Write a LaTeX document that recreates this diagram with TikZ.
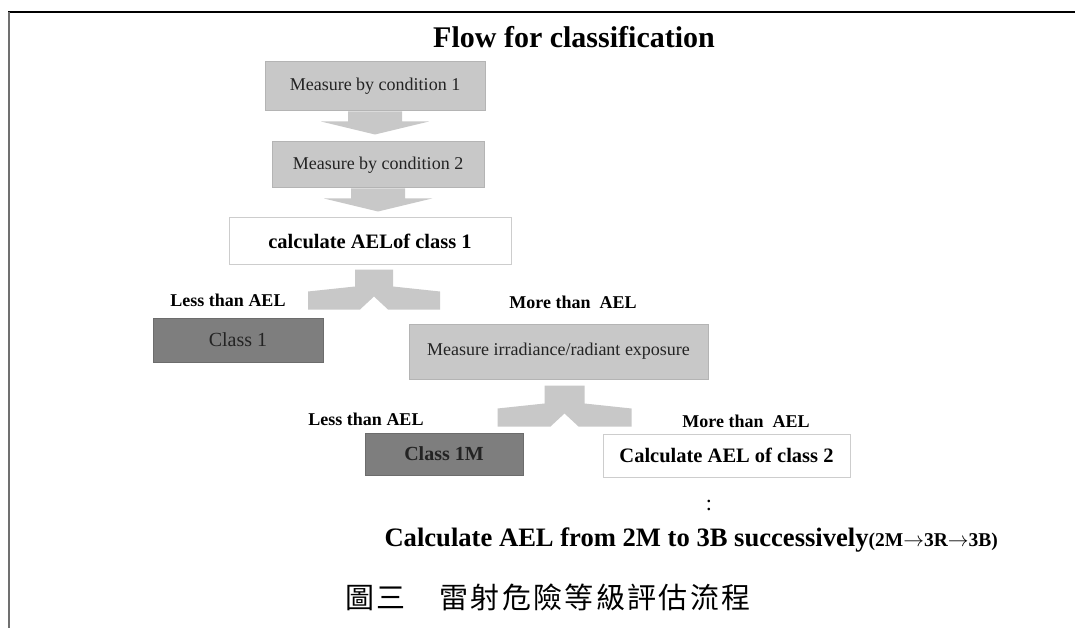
\documentclass[tikz,border=0pt]{standalone}
\usepackage{fontspec}
\setmainfont{Liberation Serif}
\newfontfamily\cjkfont[LetterSpace=8]{Noto Sans CJK TC}
\usetikzlibrary{calc}
\usepackage{xcolor}

\definecolor{boxgray}{RGB}{200,200,200}
\definecolor{boxedge}{RGB}{180,180,180}
\definecolor{darkbox}{RGB}{126,126,126}
\definecolor{darkedge}{RGB}{108,108,108}
\definecolor{whiteedge}{RGB}{205,205,205}
\definecolor{framegray}{RGB}{112,112,112}
\definecolor{inkgray}{RGB}{35,35,35}

\tikzset{
  lightbox/.style={draw=boxedge, fill=boxgray, line width=1pt, inner sep=0pt, text=inkgray,
    font=\fontsize{18}{21}\selectfont},
  darkbox/.style={draw=darkedge, fill=darkbox, line width=1pt, inner sep=0pt, text=inkgray},
  whitebox/.style={draw=whiteedge, fill=white, line width=1pt, inner sep=0pt,
    font=\fontsize{20.5}{24}\selectfont\bfseries},
  branchlabel/.style={font=\fontsize{18}{21}\selectfont\bfseries}
}

\begin{document}
\begin{tikzpicture}[x=1pt,y=-1pt]
\useasboundingbox (0,0) rectangle (1075,628);
\fill[white] (0,0) rectangle (1075,628);
\draw[line width=1.5pt] (8,12) -- (1075,12);
\draw[framegray, line width=2pt] (8.5,12) -- (8.5,628);

\node[anchor=base, font=\fontsize{30}{34}\selectfont\bfseries] (title) at (574,48) {Flow for classification};

\node[lightbox, minimum width=220pt, minimum height=49pt] (m1) at (375,86.5) {Measure by condition 1};
\node[lightbox, minimum width=212pt, minimum height=46pt] (m2) at (378,165) {Measure by condition 2};
\node[whitebox, minimum width=282pt, minimum height=46pt] (c1) at (370,241) {calculate AELof class 1};

% down arrows
\foreach \src in {m1,m2} {
  \begin{scope}[shift={(\src.south)}]
    \fill[boxgray] (-27,0) -- (27,0) -- (27,10) -- (54,10) -- (0,23) -- (-54,10) -- (-27,10) -- cycle;
  \end{scope}
}

% split arrows
\begin{scope}[shift={($(c1.south)+(4,5)$)}]
  \fill[boxgray] (-19,0) -- (19,0) -- (19,17) -- (66,22) -- (66,40) -- (14,40) -- (0,27)
    -- (-14,40) -- (-66,40) -- (-66,22) -- (-19,17) -- cycle;
\end{scope}

\node[branchlabel] (less1) at (228,300) {Less than AEL};
\node[branchlabel] (more1) at (573,302) {More than~ AEL};

\node[darkbox, minimum width=170pt, minimum height=44pt, font=\fontsize{20}{24}\selectfont] (k1) at (238,340) {Class 1};
\node[lightbox, minimum width=299pt, minimum height=55pt] (irr) at (558.5,351.5) {Measure irradiance/radiant exposure};

\begin{scope}[shift={($(irr.south)+(6,6)$)}]
  \fill[boxgray] (-20,0) -- (20,0) -- (20,18) -- (67,23) -- (67,41) -- (14,41) -- (0,28)
    -- (-14,41) -- (-67,41) -- (-67,23) -- (-20,18) -- cycle;
\end{scope}

\node[branchlabel] (less2) at (366,419) {Less than AEL};
\node[branchlabel] (more2) at (746,421) {More than~ AEL};

\node[darkbox, minimum width=158pt, minimum height=42pt, font=\fontsize{20}{24}\selectfont\bfseries] (k1m) at (444,454) {Class 1M};
\node[whitebox, minimum width=247pt, minimum height=43pt] (c2) at (726.5,455.5) {Calculate AEL of class 2};

\node[font=\fontsize{22}{24}\selectfont] (dots) at (709,505) {:};
\node[anchor=base west, font=\fontsize{26.6}{30}\selectfont\bfseries] (succ) at (381,546)
  {Calculate AEL from 2M to 3B successively{\fontsize{19.5}{22}\selectfont(2M$\rightarrow$3R$\rightarrow$3B)}};

\node[font=\cjkfont\fontsize{29}{34}\selectfont] (caption) at (548,597) {圖三　雷射危險等級評估流程};
\end{tikzpicture}
\end{document}
